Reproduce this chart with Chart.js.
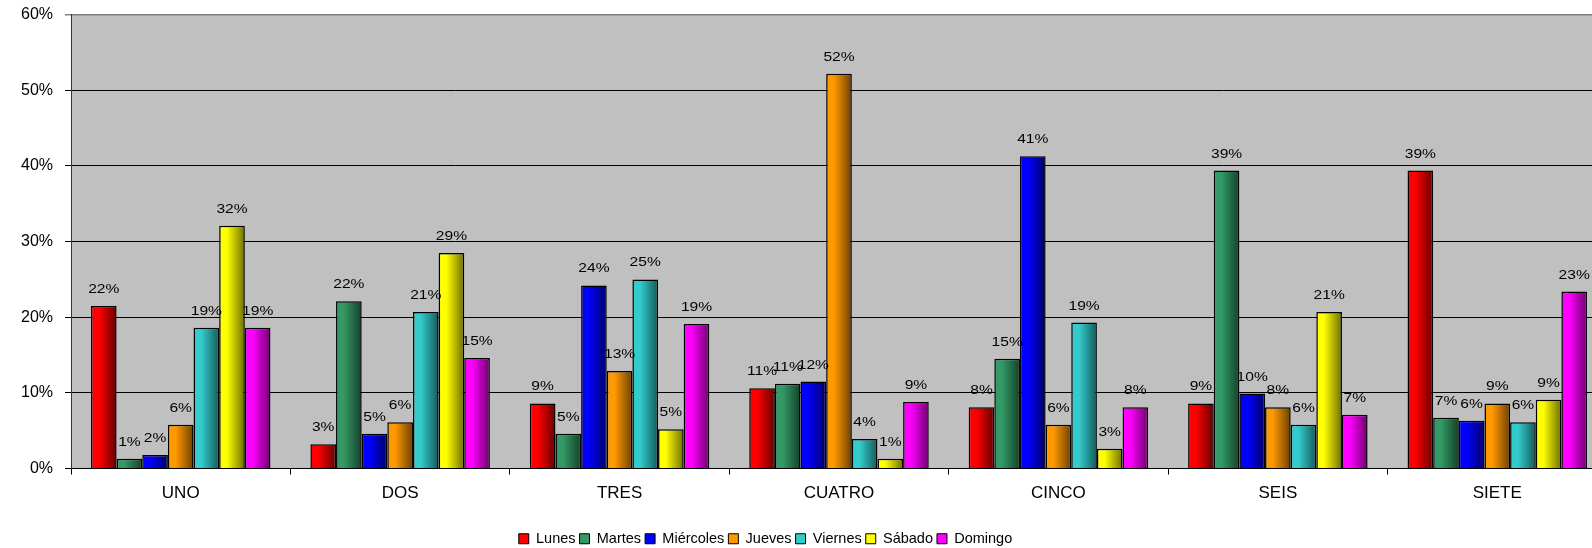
<!DOCTYPE html>
<html lang="es">
<head>
<meta charset="utf-8">
<title>Porcentaje por día</title>
<script src="https://cdn.jsdelivr.net/npm/chart.js@4"></script>
<style>
  html, body { margin: 0; padding: 0; background: #fff; overflow: hidden; }
  canvas { display: block; }
</style>
</head>
<body>
<canvas id="graphique-jours" width="1607" height="548"></canvas>
<script>
// Catégories de l'axe horizontal
const categories = ["UNO", "DOS", "TRES", "CUATRO", "CINCO", "SEIS", "SIETE"];

// Valeurs (en %)
const lunes     = [21.5, 3.2, 8.6, 10.6, 8.1, 8.6, 39.4];
const martes    = [1.3, 22.1, 4.6, 11.2, 14.5, 39.4, 6.7];
const miercoles = [1.8, 4.6, 24.2, 11.5, 41.3, 9.9, 6.3];
const jueves    = [5.8, 6.1, 12.9, 52.2, 5.8, 8.1, 8.6];
const viernes   = [18.6, 20.7, 25.0, 3.9, 19.3, 5.8, 6.1];
const sabado    = [32.1, 28.5, 5.2, 1.3, 2.6, 20.7, 9.1];
const domingo   = [18.6, 14.6, 19.1, 8.8, 8.1, 7.1, 23.4];

// Noms des séries et graduations de l'axe vertical
const nomsSeries = ["Lunes", "Martes", "Miércoles", "Jueves", "Viernes", "Sábado", "Domingo"];
const graduations = [0, 10, 20, 30, 40, 50, 60];

// Couleurs claires (gauche de la barre) et foncées (droite)
const couleurs = ["#ff0000", "#339966", "#0000ff", "#ff9900", "#33cccc", "#ffff00", "#ff00ff"];
const couleursSombres = ["#640000", "#14402a", "#000066", "#6e4000", "#145a5a", "#6e6e00", "#6e006e"];

const police = '"Liberation Sans", Arial, sans-serif';
Chart.defaults.font.family = police;
Chart.defaults.color = "#000";

// Dégradé horizontal calculé à partir de la barre elle-même
function degrade(clair, sombre) {
  return function (context) {
    const barre = context.element;
    if (!barre || barre.x === undefined || isNaN(barre.x) || !barre.width) {
      return clair;
    }
    const g = context.chart.ctx.createLinearGradient(barre.x - barre.width / 2, 0, barre.x + barre.width / 2, 0);
    g.addColorStop(0, clair);
    g.addColorStop(0.3, clair);
    g.addColorStop(1, sombre);
    return g;
  };
}

const series = [lunes, martes, miercoles, jueves, viernes, sabado, domingo];
const datasets = series.map((valeurs, i) => ({
  label: nomsSeries[i],
  data: valeurs,
  backgroundColor: degrade(couleurs[i], couleursSombres[i]),
  borderColor: "#000",
  borderWidth: 1.5,
  borderSkipped: "bottom",
  barPercentage: 1,
  categoryPercentage: 0.818
}));

// Fond gris de la zone de tracé
const fondGris = {
  id: "fondGris",
  beforeDraw(chart) {
    const { ctx, chartArea } = chart;
    ctx.save();
    ctx.fillStyle = "#c0c0c0";
    ctx.fillRect(chartArea.left, chartArea.top, chartArea.right - chartArea.left, chartArea.bottom - chartArea.top);
    ctx.restore();
  }
};

// Étiquettes de valeur au-dessus des barres (texte un peu étiré comme l'original)
const etiquettes = {
  id: "etiquettes",
  afterDatasetsDraw(chart) {
    const ctx = chart.ctx;
    chart.data.datasets.forEach((ds, i) => {
      chart.getDatasetMeta(i).data.forEach((barre, j) => {
        ctx.save();
        ctx.font = "13px " + police;
        ctx.fillStyle = "#000";
        ctx.textAlign = "center";
        ctx.textBaseline = "alphabetic";
        ctx.translate(barre.x, barre.y - 13);
        ctx.scale(1.2, 1);
        ctx.fillText(Math.round(ds.data[j]) + "%", 0, 0);
        ctx.restore();
      });
    });
  }
};

// La légende est centrée un peu plus à gauche dans l'original
const decalageLegende = {
  id: "decalageLegende",
  afterLayout(chart) {
    const legende = chart.legend;
    if (!legende) return;
    legende.left -= 38;
    legende.right -= 38;
    legende.top += 8;
    legende.bottom += 8;
  }
};

const config = {
  type: "bar",
  data: { labels: categories, datasets: datasets },
  options: {
    responsive: false,
    animation: false,
    layout: { padding: { top: 14.7, right: 0, bottom: 0, left: 0 } },
    plugins: {
      tooltip: { enabled: false },
      legend: {
        position: "bottom",
        labels: {
          font: { size: 14.5 },
          boxWidth: 10,
          boxHeight: 10,
          padding: 4,
          generateLabels(chart) {
            const items = Chart.defaults.plugins.legend.labels.generateLabels(chart);
            items.forEach((item, i) => {
              item.fillStyle = couleurs[i];
              item.strokeStyle = "#000";
              item.lineWidth = 1;
            });
            return items;
          }
        }
      }
    },
    scales: {
      x: {
        grid: { display: true, drawOnChartArea: false, drawTicks: true, tickLength: 6, color: "#000", offset: true },
        border: { color: "#000", width: 1 },
        ticks: { font: { size: 17 }, padding: 9, maxRotation: 0 },
        afterFit(scale) { scale.height = 51; }
      },
      y: {
        min: 0,
        max: 60,
        afterBuildTicks(scale) {
          scale.ticks = graduations.map(v => ({ value: v }));
        },
        grid: {
          color: c => (c.tick && c.tick.value === 60 ? "#808080" : "#000"),
          lineWidth: c => (c.tick && c.tick.value === 60 ? 1.5 : 1),
          tickLength: 6
        },
        border: { color: "#333", width: 1 },
        ticks: {
          font: { size: 16 },
          padding: 12,
          callback: v => v + "%"
        },
        afterFit(scale) {
          scale.width = 71;
          scale.paddingTop = 0;
          scale.paddingBottom = 0;
        }
      }
    }
  },
  plugins: [fondGris, etiquettes, decalageLegende]
};

const graphique = new Chart(document.querySelector("#graphique-jours"), config);
// Deuxième passage : les barres ont maintenant leur position pour les dégradés
graphique.update("none");
</script>
</body>
</html>
